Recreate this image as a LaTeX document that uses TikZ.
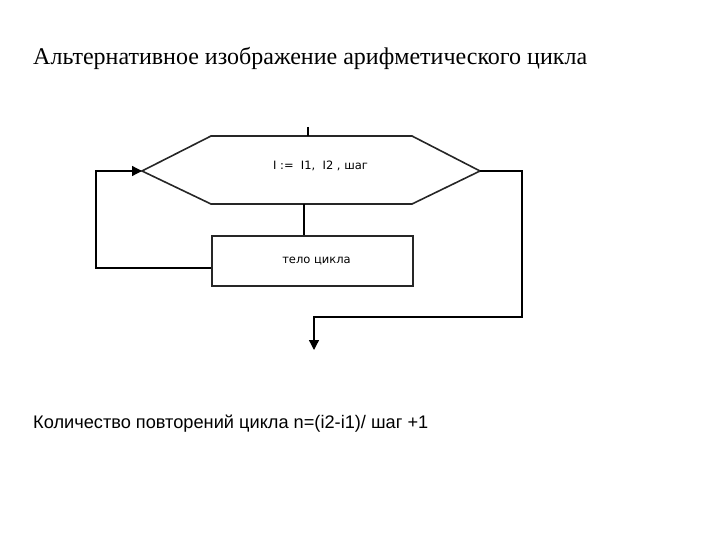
\documentclass[tikz,border=0pt]{standalone}
\usepackage{fontspec}
\setmainfont{Liberation Serif}
\newfontfamily\arialfont{Liberation Sans}
\newfontfamily\smallfont{DejaVu Sans}
\usetikzlibrary{arrows.meta}
\tikzset{
  block/.style={draw=black!85, line width=1.6pt},
  flowline/.style={draw=black, line width=1.3pt},
  tipline/.style={flowline, -{Triangle[length=10pt,width=10pt]}},
  blocktext/.style={font=\smallfont\fontsize{11.5}{13}\selectfont},
}
\begin{document}
\begin{tikzpicture}[x=1pt,y=-1pt]
\useasboundingbox (0,0) rectangle (720,540);
% title and note
\node[anchor=base west, inner sep=0pt, font=\fontsize{24}{28}\selectfont] (title) at (33,65) {Альтернативное изображение арифметического цикла};
\node[anchor=base west, inner sep=0pt, font=\arialfont\fontsize{18.2}{21}\selectfont] (note) at (33,428) {Количество повторений цикла n=(i2-i1)/ шаг +1};
% loop header
\coordinate (hl) at (142,171);
\coordinate (hr) at (480,171);
\draw[block] (hl) -- (211,136) -- (412,136) -- (hr) -- (412,204) -- (211,204) -- cycle;
\node[blocktext] (head) at (320.5,166) {I~:=~~I1,~~I2~,~шаг};
\coordinate (htop) at (308,136);
\coordinate (hbot) at (304,204);
\coordinate (entry) at (308,127);
% body
\node[block, minimum width=201pt, minimum height=50pt, inner sep=0pt, blocktext] (body) at (312.5,261) {\hspace{8pt}тело цикла};
% connectors
\draw[flowline] (entry) -- (htop);
\draw[flowline] (hbot) -- (hbot |- body.north);
\draw[tipline] (body.west |- 0,268) -- (96,268) -- (96,171) -- (hl);
\coordinate (exit) at (314,350);
\draw[tipline] (hr) -- (522,171) -- (522,317) -- (314,317) -- (exit);
\end{tikzpicture}
\end{document}
